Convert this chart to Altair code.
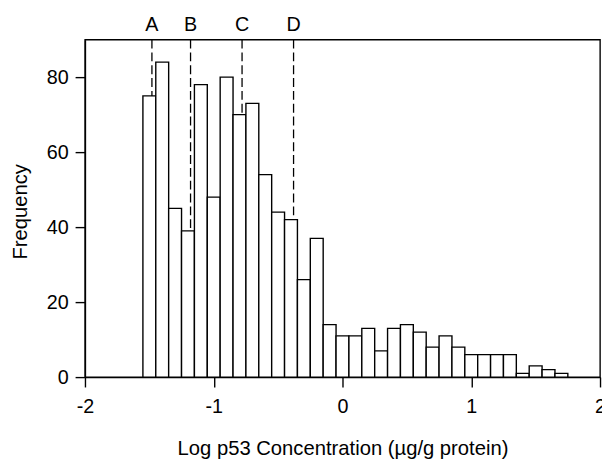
import altair as alt
import pandas as pd

# Histogram bins (left edges, width 0.1) and counts
bin_left = [-1.55, -1.45, -1.35, -1.25, -1.15, -1.05, -0.95, -0.85, -0.75, -0.65,
            -0.55, -0.45, -0.35, -0.25, -0.15, -0.05, 0.05, 0.15, 0.25, 0.35,
            0.45, 0.55, 0.65, 0.75, 0.85, 0.95, 1.05, 1.15, 1.25, 1.35,
            1.45, 1.55, 1.65]
counts = [75, 84, 45, 39, 78, 48, 80, 70, 73, 54,
          44, 42, 26, 37, 14, 11, 11, 13, 7, 13,
          14, 12, 8, 11, 8, 6, 6, 6, 6, 1,
          3, 2, 1]
bin_width = 0.1

# Marker lines
marker_labels = ["A", "B", "C", "D"]
marker_x = [-1.48, -1.18, -0.78, -0.38]

x_ticks = [-2, -1, 0, 1, 2]
y_ticks = [0, 20, 40, 60, 80]

bars = pd.DataFrame({
    "lo": bin_left,
    "hi": [b + bin_width for b in bin_left],
    "count": counts,
})

def bar_height_at(x):
    for lo, c in zip(bin_left, counts):
        if lo <= x < lo + bin_width:
            return c
    return 0

markers = pd.DataFrame({
    "label": marker_labels,
    "x": marker_x,
    "top": [90] * len(marker_x),
    "end": [bar_height_at(v) for v in marker_x],
})

FONT = "Liberation Sans"

xscale = alt.Scale(domain=[-2, 2], nice=False, zero=False)
yscale = alt.Scale(domain=[0, 90], nice=False)

x_axis = alt.Axis(values=x_ticks, title="Log p53 Concentration (\u00b5g/g protein)",
                  grid=False, tickSize=10, labelPadding=10, labelFontSize=20,
                  titleFontSize=20.5, titleFontWeight="normal", titleY=78,
                  titleBaseline="alphabetic", labelFlush=False,
                  labelExpr="'' + datum.value")
y_axis = alt.Axis(values=y_ticks, title="Frequency", grid=False, tickSize=10,
                  labelPadding=7, labelFontSize=20, titleFontSize=20.5,
                  titleFontWeight="normal", titleX=-59, titleY=174,
                  titleBaseline="alphabetic", titleAngle=270)

hist = alt.Chart(bars).mark_rect(fill="white", stroke="black", strokeWidth=1.4).encode(
    x=alt.X("lo:Q", scale=xscale, axis=x_axis),
    x2="hi:Q",
    y=alt.Y("count:Q", scale=yscale, axis=y_axis),
    y2=alt.datum(0),
)

lines = alt.Chart(markers).mark_rule(stroke="black", strokeWidth=1.3,
                                     strokeDash=[9, 4]).encode(
    x=alt.X("x:Q", scale=xscale),
    y=alt.Y("top:Q", scale=yscale),
    y2="end:Q",
)

labels = alt.Chart(markers).mark_text(font=FONT, fontSize=20, baseline="alphabetic",
                                      align="center", color="black").encode(
    x=alt.X("x:Q", scale=xscale),
    y=alt.value(-9),
    text="label:N",
)

chart = alt.layer(hist, lines, labels).properties(
    width=522, height=342,
    autosize=alt.AutoSizeParams(type="none"),
    padding={"left": 78, "top": 29, "right": 2, "bottom": 84},
).configure(
    font=FONT,
    background="white",
).configure_view(
    stroke="black", strokeWidth=1.4
).configure_axis(
    domainColor="black", tickColor="black", labelColor="black", titleColor="black",
    labelFont=FONT, titleFont=FONT, domainWidth=1.4, tickWidth=1.4,
)

chart.save("out.html", embed_options={"renderer": "svg", "actions": False})
